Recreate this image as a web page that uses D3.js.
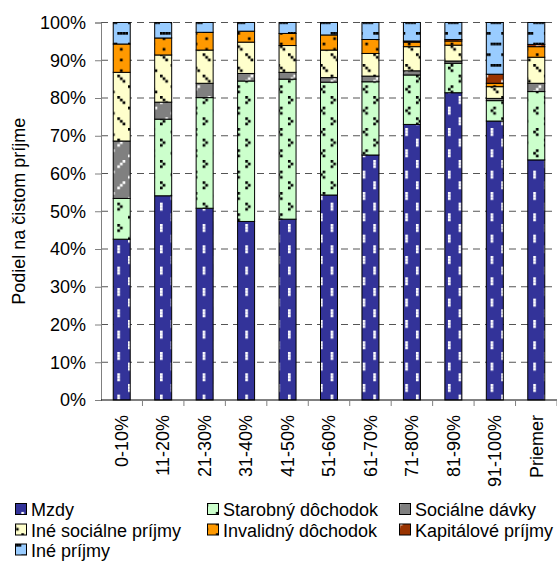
<!DOCTYPE html>
<html>
<head>
<meta charset="utf-8">
<script src="https://cdn.jsdelivr.net/npm/d3@7"></script>
<style>
  html, body { margin: 0; padding: 0; background: #fff; }
  svg { display: block; font-family: "Liberation Sans", Arial, sans-serif; }
</style>
</head>
<body>
<svg id="chart" width="557" height="561"></svg>
<script>
// Income deciles and the average household
const categories = ["0-10%", "11-20%", "21-30%", "31-40%", "41-50%", "51-60%",
                    "61-70%", "71-80%", "81-90%", "91-100%", "Priemer"];

// Share of net income by source (%), bottom to top of each stack
const mzdy          = [42.6, 54.1, 50.8, 47.3, 47.9, 54.3, 64.9, 73.0, 81.4, 73.9, 63.6];
const starobny      = [10.8, 20.3, 29.3, 37.2, 37.1, 29.9, 19.4, 13.1,  7.8,  5.4, 18.1];
const socialneDavky = [15.2,  4.5,  3.8,  2.0,  1.8,  1.2,  1.5,  1.1,  0.6,  0.6,  2.2];
const ineSocialne   = [18.2, 12.5,  8.8,  8.3,  7.1,  7.3,  6.0,  6.4,  4.2,  3.1,  6.9];
const invalidny     = [ 7.5,  4.5,  4.7,  2.9,  3.2,  4.0,  3.7,  1.2,  1.1,  0.9,  2.8];
const kapitalove    = [ 0.0,  0.0,  0.0,  0.0,  0.0,  0.0,  0.0,  0.3,  0.4,  2.4,  0.6];
const inePrijmy     = [ 5.7,  4.1,  2.6,  2.3,  2.9,  3.3,  4.5,  4.9,  4.5, 13.7,  5.8];

const seriesNames = ["Mzdy", "Starobný dôchodok", "Sociálne dávky", "Iné sociálne príjmy",
                     "Invalidný dôchodok", "Kapitálové príjmy", "Iné príjmy"];
const seriesValues = [mzdy, starobny, socialneDavky, ineSocialne, invalidny, kapitalove, inePrijmy];

const yTicks = [0, 10, 20, 30, 40, 50, 60, 70, 80, 90, 100];
const yTitle = "Podiel na čistom príjme";

// Fill patterns: background colour plus 8x8 bitmap cells of a foreground colour
const patterns = [
  { id: "p0", bg: "#333399", fg: "#ffffff", cells: [[0,0],[0,1],[0,2],[4,4],[4,5],[4,6]] },
  { id: "p1", bg: "#ccffcc", fg: "#000000", cells: [[1,0],[0,1],[1,2],[4,4],[5,5],[4,6]] },
  { id: "p2", bg: "#808080", fg: "#ffffff", cells: [[2,0],[1,1],[0,2],[6,4],[5,5],[4,6]] },
  { id: "p3", bg: "#ffffcc", fg: "#000000", cells: [[0,0],[1,1],[2,2],[4,4],[5,5],[6,6]] },
  { id: "p4", bg: "#ff9900", fg: "#000000", cells: [[1,0],[5,2],[1,4],[5,6]] },
  { id: "p5", bg: "#993300", fg: "#ffffff", cells: [[2,0],[1,1],[0,2],[6,4],[5,5],[4,6]] },
  { id: "p6", bg: "#99ccff", fg: "#000000", cells: [[0,0],[1,0],[2,0],[3,0],[4,4],[5,4],[6,4],[7,4]] }
];

const svg = d3.select("#chart");
const W = 557, H = 561;
const margin = { left: 101, right: 0, top: 22.5, bottom: 161 };
const plotL = margin.left, plotR = W - margin.right;
const plotT = margin.top, plotB = H - margin.bottom;

const unit = 21.33 / 8;
const defs = svg.append("defs");
patterns.forEach(p => {
  const pat = defs.append("pattern")
    .attr("id", p.id)
    .attr("patternUnits", "userSpaceOnUse")
    .attr("width", unit * 8).attr("height", unit * 8);
  pat.append("rect").attr("width", unit * 8).attr("height", unit * 8).attr("fill", p.bg);
  p.cells.forEach(([cx, cy]) => {
    pat.append("rect")
      .attr("x", cx * unit).attr("y", cy * unit)
      .attr("width", unit).attr("height", unit)
      .attr("fill", p.fg);
  });
});

const x = d3.scaleBand()
  .domain(categories)
  .range([plotL, plotR])
  .paddingInner(0.59)
  .paddingOuter(0.295);

const y = d3.scaleLinear().domain([0, 100]).range([plotB, plotT]);

// Dashed gridlines
svg.append("g")
  .selectAll("line")
  .data(yTicks.filter(t => t > 0))
  .join("line")
  .attr("x1", plotL).attr("x2", plotR)
  .attr("y1", d => y(d)).attr("y2", d => y(d))
  .attr("stroke", "#555")
  .attr("stroke-width", 1)
  .attr("stroke-dasharray", "7,5");

// Stacked bars
const table = categories.map((c, i) => {
  const row = { cat: c };
  seriesNames.forEach((s, k) => { row[s] = seriesValues[k][i]; });
  return row;
});
const stacked = d3.stack().keys(seriesNames)(table);

const layers = svg.append("g")
  .selectAll("g")
  .data(stacked)
  .join("g")
  .attr("fill", (d, k) => `url(#${patterns[k].id})`);

layers.selectAll("rect")
  .data(d => d.filter(s => s[1] - s[0] > 0))
  .join("rect")
  .attr("x", d => x(d.data.cat))
  .attr("width", x.bandwidth())
  .attr("y", d => y(d[1]))
  .attr("height", d => y(d[0]) - y(d[1]))
  .attr("stroke", "#000")
  .attr("stroke-width", 1);

// Y axis
const yAxis = svg.append("g")
  .attr("transform", `translate(${plotL},0)`)
  .call(d3.axisLeft(y).tickValues(yTicks).tickFormat(d => d + "%").tickSize(6).tickPadding(9));
yAxis.select(".domain").attr("stroke", "#808080");
yAxis.selectAll(".tick line").attr("stroke", "#808080");
yAxis.selectAll(".tick text")
  .attr("font-size", 18)
  .attr("font-family", "Liberation Sans, Arial, sans-serif")
  .attr("fill", "#000");

// X axis: baseline, ticks between categories, rotated labels
const xg = svg.append("g");
xg.append("line")
  .attr("x1", plotL).attr("x2", plotR)
  .attr("y1", plotB).attr("y2", plotB)
  .attr("stroke", "#000");
const step = x.step();
xg.selectAll("line.tk")
  .data(d3.range(1, categories.length + 1))
  .join("line")
  .attr("class", "tk")
  .attr("x1", i => x(categories[0]) - x.paddingOuter() * step + i * step)
  .attr("x2", i => x(categories[0]) - x.paddingOuter() * step + i * step)
  .attr("y1", plotB).attr("y2", plotB + 6)
  .attr("stroke", "#808080");
xg.selectAll("text")
  .data(categories)
  .join("text")
  .attr("transform", d => `translate(${x(d) + x.bandwidth() / 2},${plotB + 15}) rotate(-90)`)
  .attr("text-anchor", "end")
  .attr("dy", "0.35em")
  .attr("font-size", 18)
  .text(d => d);

// Y axis title
svg.append("text")
  .attr("transform", `translate(19,${(plotT + plotB) / 2}) rotate(-90)`)
  .attr("text-anchor", "middle")
  .attr("dy", "0.35em")
  .attr("font-size", 18)
  .text(yTitle);

// Legend: three columns, three rows
const legendCols = [15, 207, 399];
const legendRows = [516, 536.5, 556.5];
const lg = svg.append("g");
seriesNames.forEach((name, k) => {
  const cx = legendCols[k % 3];
  const by = legendRows[Math.floor(k / 3)];
  lg.append("rect")
    .attr("x", cx + 0.5).attr("y", by - 12.5)
    .attr("width", 11).attr("height", 11)
    .attr("fill", `url(#${patterns[k].id})`)
    .attr("stroke", "#000");
  lg.append("text")
    .attr("x", cx + 16).attr("y", by)
    .attr("font-size", 18)
    .text(name);
});
</script>
</body>
</html>
